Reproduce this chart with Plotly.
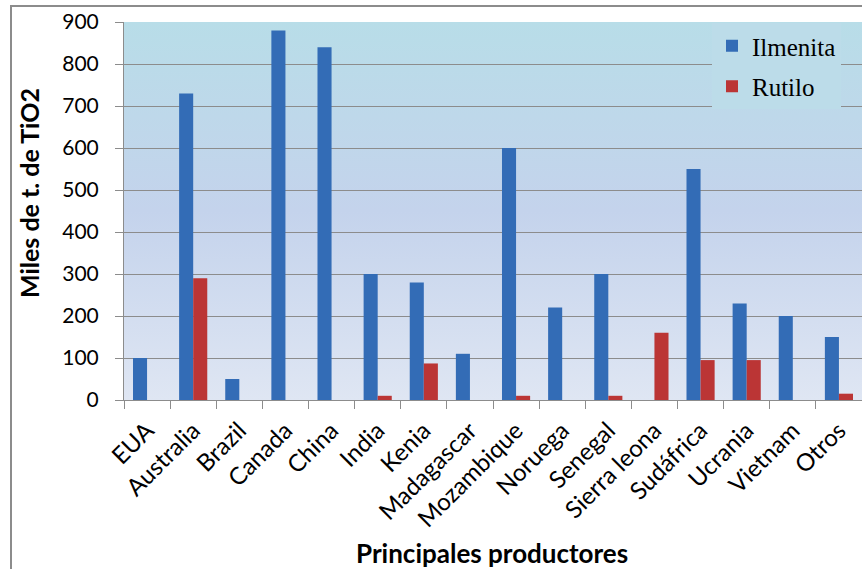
import plotly.graph_objects as go
import base64

categories = ["EUA", "Australia", "Brazil", "Canada", "China", "India", "Kenia", "Madagascar",
              "Mozambique", "Noruega", "Senegal", "Sierra leona", "Sudáfrica", "Ucrania",
              "Vietnam", "Otros"]
ilmenita = [100, 730, 50, 880, 840, 300, 280, 110, 600, 220, 300, None, 550, 230, 200, 150]
rutilo = [None, 290, None, None, None, 10, 87, None, 10, None, 10, 160, 95, 95, None, 15]
y_ticks = [0, 100, 200, 300, 400, 500, 600, 700, 800, 900]

W, H = 862, 569
L, R, T, B = 124, 0, 22, 169
pw, ph = W - L - R, H - T - B

svg = ('<svg xmlns="http://www.w3.org/2000/svg" width="100" height="100" preserveAspectRatio="none">'
       '<defs><linearGradient id="g" x1="0" y1="0" x2="0" y2="1">'
       '<stop offset="0" stop-color="#b8dde8"/><stop offset="0.5" stop-color="#c4d3ec"/>'
       '<stop offset="1" stop-color="#dfe6f3"/></linearGradient></defs>'
       '<rect width="100" height="100" fill="url(#g)"/></svg>')
src = "data:image/svg+xml;base64," + base64.b64encode(svg.encode()).decode()

fig = go.Figure()
fig.add_trace(go.Bar(x=categories, y=ilmenita, name="Ilmenita", legendgroup="a",
                     marker=dict(color="#336cb6", line=dict(width=0))))
fig.add_trace(go.Bar(x=categories, y=rutilo, name="Rutilo", legendgroup="b",
                     marker=dict(color="#bb3535", line=dict(width=0))))

grid = "#8c8c8c"
fig.update_layout(
    width=W, height=H,
    margin=dict(l=L, r=R, t=T, b=B),
    paper_bgcolor="white",
    plot_bgcolor="rgba(0,0,0,0)",
    barmode="group", bargap=0.39, bargroupgap=0,
    font=dict(family="Lato, 'Open Sans', sans-serif", color="black", size=20),
    showlegend=True,
    legend=dict(x=(712 - L) / pw, y=(400 - 23) / ph, xanchor="left", yanchor="top",
                bgcolor="#bcdce9", borderwidth=0, traceorder="grouped", tracegroupgap=5,
                font=dict(family="'Liberation Serif', 'DejaVu Serif', serif", size=25, color="black")),
    xaxis=dict(type="category", showgrid=False, showline=True, linecolor=grid, linewidth=1,
               ticks="outside", tickson="boundaries", ticklen=8, tickcolor=grid,
               tickangle=-45, tickfont=dict(size=24), ticklabelstandoff=6),
    yaxis=dict(range=[0, 900], tickmode="array", tickvals=y_ticks, showgrid=True, gridcolor=grid,
               gridwidth=1, showline=True, linecolor=grid, linewidth=1, ticks="outside",
               ticklen=8, tickcolor=grid, tickfont=dict(size=21), ticklabelstandoff=12,
               zeroline=False),
    images=[dict(source=src, xref="paper", yref="paper", x=0, y=1, sizex=1, sizey=1,
                 xanchor="left", yanchor="top", sizing="stretch", layer="below")],
    annotations=[
        dict(text="<b>Miles de t. de TiO2</b>", xref="paper", yref="paper",
             x=(29 - L) / pw, y=(400 - 193) / ph, textangle=-90, showarrow=False,
             xanchor="center", yanchor="middle", font=dict(size=25)),
        dict(text="<b>Principales productores</b>", xref="paper", yref="paper",
             x=(492 - L) / pw, y=(400 - 553) / ph, showarrow=False,
             xanchor="center", yanchor="middle", font=dict(size=26)),
    ],
    shapes=[dict(type="rect", xref="paper", yref="paper",
                 x0=(11 - L) / pw, x1=1.1, y0=-0.6, y1=(400 - 6) / ph,
                 line=dict(color="#8c8c8c", width=2), fillcolor="rgba(0,0,0,0)", layer="above")],
)

fig.write_html("out.html")
